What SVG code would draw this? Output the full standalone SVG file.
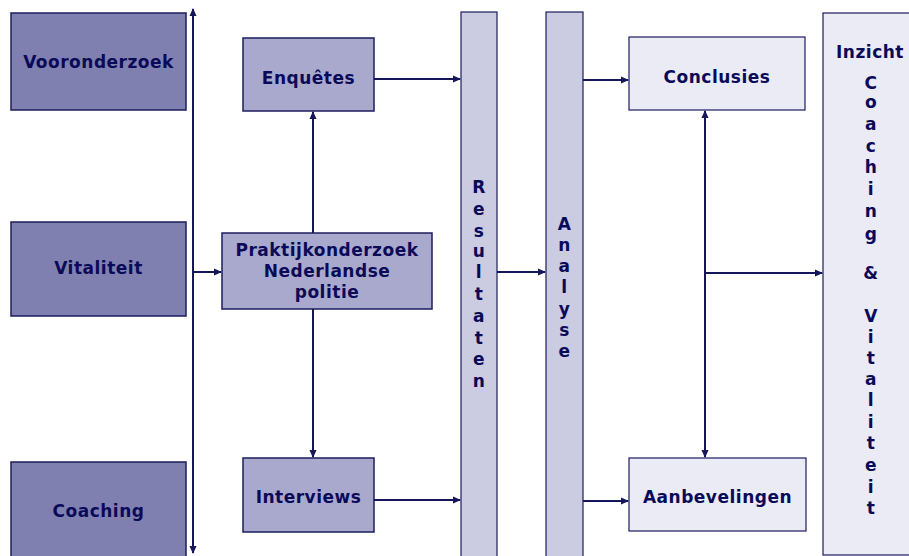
<svg xmlns="http://www.w3.org/2000/svg" width="909" height="556" viewBox="0 0 909 556">
<style>
.t{font-family:"DejaVu Sans",Verdana,sans-serif;font-weight:bold;font-size:17px;letter-spacing:0.5px;fill:#0a0a58;text-anchor:middle}
.dk{fill:#8080b0;stroke:#1c1c5e;stroke-width:1.5}
.md{fill:#a9a9cd;stroke:#1c1c5e;stroke-width:1.5}
.col{fill:#cbcbe2;stroke:#1c1c5e;stroke-width:1.2}
.lt{fill:#ebebf5;stroke:#1c1c5e;stroke-width:1.2}
.ln{stroke:#15155a;stroke-width:2;fill:none}
</style>
<defs>
<marker id="ah" markerWidth="8" markerHeight="8" refX="7" refY="4" orient="auto" markerUnits="userSpaceOnUse">
<path d="M0,0.5 L8,4 L0,7.5 Z" fill="#15155a"/>
</marker>
</defs>
<rect width="909" height="556" fill="#ffffff"/>
<g id="vooronderzoek"><rect class="dk" x="11" y="13" width="175" height="97"/><text class="t" x="98.5" y="68">Vooronderzoek</text></g>
<g id="vitaliteit"><rect class="dk" x="11" y="222" width="175" height="94"/><text class="t" x="98.5" y="274">Vitaliteit</text></g>
<g id="coaching"><rect class="dk" x="11" y="462" width="175" height="100"/><text class="t" x="98.5" y="517">Coaching</text></g>
<g id="enquetes"><rect class="md" x="243" y="38" width="131" height="73"/><text class="t" x="308.5" y="84">Enquêtes</text></g>
<g id="praktijk"><rect class="md" x="222" y="233" width="210" height="76"/><text class="t" x="327" y="256">Praktijkonderzoek</text><text class="t" x="327" y="277">Nederlandse</text><text class="t" x="327" y="298">politie</text></g>
<g id="interviews"><rect class="md" x="243" y="458" width="131" height="74"/><text class="t" x="308.5" y="503">Interviews</text></g>
<g id="resultaten"><rect class="col" x="461" y="12" width="36" height="550"/>
<text class="t" x="479" y="193">R</text><text class="t" x="479" y="215">e</text><text class="t" x="479" y="237">s</text><text class="t" x="479" y="257">u</text><text class="t" x="479" y="278">l</text><text class="t" x="479" y="300">t</text><text class="t" x="479" y="322">a</text><text class="t" x="479" y="344">t</text><text class="t" x="479" y="365">e</text><text class="t" x="479" y="387">n</text></g>
<g id="analyse"><rect class="col" x="546" y="12" width="37" height="550"/>
<text class="t" x="564.5" y="230">A</text><text class="t" x="564.5" y="251">n</text><text class="t" x="564.5" y="272">a</text><text class="t" x="564.5" y="293">l</text><text class="t" x="564.5" y="315">y</text><text class="t" x="564.5" y="336">s</text><text class="t" x="564.5" y="357">e</text></g>
<g id="conclusies"><rect class="lt" x="629" y="37" width="176" height="73"/><text class="t" x="717" y="83">Conclusies</text></g>
<g id="aanbevelingen"><rect class="lt" x="629" y="458" width="177" height="73"/><text class="t" x="717.5" y="503">Aanbevelingen</text></g>
<g id="inzicht"><rect class="lt" x="823" y="13" width="100" height="542"/>
<text class="t" x="870" y="58">Inzicht</text>
<text class="t" x="871" y="89">C</text><text class="t" x="871" y="108">o</text><text class="t" x="871" y="130">a</text><text class="t" x="871" y="152">c</text><text class="t" x="871" y="173">h</text><text class="t" x="871" y="195">i</text><text class="t" x="871" y="217">n</text><text class="t" x="871" y="240">g</text>
<text class="t" x="871" y="279">&amp;</text>
<text class="t" x="871" y="322">V</text><text class="t" x="871" y="343">i</text><text class="t" x="871" y="364">t</text><text class="t" x="871" y="385">a</text><text class="t" x="871" y="406">l</text><text class="t" x="871" y="428">i</text><text class="t" x="871" y="449">t</text><text class="t" x="871" y="471">e</text><text class="t" x="871" y="493">i</text><text class="t" x="871" y="514">t</text></g>
<g id="connectors">
<line class="ln" x1="193" y1="552" x2="193" y2="9" marker-end="url(#ah)"/>
<line class="ln" x1="193" y1="12" x2="193" y2="553" marker-end="url(#ah)"/>
<line class="ln" x1="193" y1="272" x2="221" y2="272" marker-end="url(#ah)"/>
<line class="ln" x1="313" y1="233" x2="313" y2="112" marker-end="url(#ah)"/>
<line class="ln" x1="313" y1="309" x2="313" y2="457" marker-end="url(#ah)"/>
<line class="ln" x1="374" y1="79" x2="460" y2="79" marker-end="url(#ah)"/>
<line class="ln" x1="374" y1="500" x2="460" y2="500" marker-end="url(#ah)"/>
<line class="ln" x1="497" y1="272" x2="545" y2="272" marker-end="url(#ah)"/>
<line class="ln" x1="583" y1="80" x2="628" y2="80" marker-end="url(#ah)"/>
<line class="ln" x1="583" y1="501" x2="628" y2="501" marker-end="url(#ah)"/>
<line class="ln" x1="705" y1="272" x2="705" y2="111" marker-end="url(#ah)"/>
<line class="ln" x1="705" y1="272" x2="705" y2="457" marker-end="url(#ah)"/>
<line class="ln" x1="705" y1="273" x2="822" y2="273" marker-end="url(#ah)"/>
</g>
</svg>
